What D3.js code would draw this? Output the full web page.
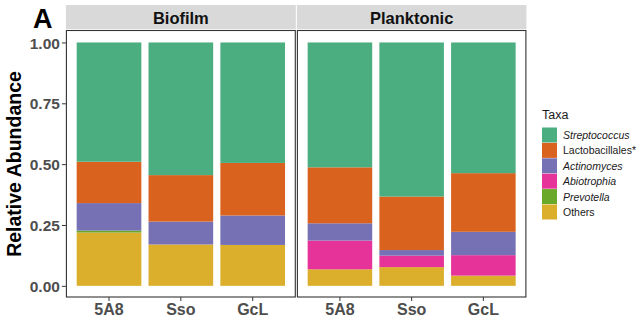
<!DOCTYPE html>
<html><head><meta charset="utf-8">
<script src="https://cdn.jsdelivr.net/npm/d3@7"></script>
<style>body{margin:0;background:#fff}svg{display:block;font-family:Arial,"Liberation Sans",sans-serif}</style>
</head><body><svg id="c" width="642" height="322"></svg>
<script>
const panels = ["Biofilm", "Planktonic"];
const samples = ["5A8", "Sso", "GcL"];
const taxa = ["Streptococcus", "Lactobacillales*", "Actinomyces", "Abiotrophia", "Prevotella", "Others"];
const italicTaxa = [true, false, true, true, true, false];
const colors = ["#4BAE80", "#D9621F", "#7670B5", "#E5339A", "#6AA82A", "#DBAE2C"];
// values per taxon, order: Biofilm 5A8, Sso, GcL, Planktonic 5A8, Sso, GcL
const streptococcus   = [0.490, 0.545, 0.495, 0.513, 0.633, 0.537];
const lactobacillales = [0.170, 0.191, 0.216, 0.230, 0.220, 0.241];
const actinomyces     = [0.113, 0.094, 0.121, 0.071, 0.023, 0.096];
const abiotrophia     = [0.000, 0.000, 0.000, 0.118, 0.047, 0.084];
const prevotella      = [0.008, 0.000, 0.000, 0.000, 0.000, 0.000];
const others          = [0.219, 0.170, 0.168, 0.068, 0.077, 0.042];
const yTicks = [0, 0.25, 0.5, 0.75, 1.0];

const series = [streptococcus, lactobacillales, actinomyces, abiotrophia, prevotella, others];
const rows = [];
panels.forEach((p, pi) => samples.forEach((s, si) => {
  const r = {panel: p, sample: s};
  taxa.forEach((t, ti) => r[t] = series[ti][pi * 3 + si]);
  rows.push(r);
}));
const stackOrder = taxa.slice().reverse();
const stacked = d3.stack().keys(stackOrder)(rows);
const color = d3.scaleOrdinal().domain(taxa).range(colors);

const svg = d3.select("#c");
const panelX = [[65.9, 295.8], [296.9, 526.4]];
const y = d3.scaleLinear().domain([-0.05, 1.05]).range([298, 30.3]);
const stripTop = 5, stripBot = 29;
const font = "Arial, 'Liberation Sans', sans-serif";

panels.forEach((p, pi) => {
  const [x0, x1] = panelX[pi];
  const x = d3.scaleBand().domain(samples).range([x0, x1]).paddingInner(0.1).paddingOuter(0.15);
  const g = svg.append("g");
  g.append("rect").attr("x", x0).attr("y", stripTop).attr("width", x1 - x0).attr("height", stripBot - stripTop).attr("fill", "#D9D9D9");
  g.append("text").attr("x", (x0 + x1) / 2).attr("y", 24).attr("text-anchor", "middle")
    .attr("font-size", 16.5).attr("font-weight", "bold").attr("fill", "#111").text(p);
  stacked.forEach(layer => {
    const key = layer.key;
    layer.forEach(d => {
      if (d.data.panel !== p) return;
      if (d[1] - d[0] <= 0) return;
      g.append("rect")
        .attr("x", x(d.data.sample)).attr("width", x.bandwidth())
        .attr("y", y(d[1])).attr("height", y(d[0]) - y(d[1]))
        .attr("fill", color(key));
    });
  });
  g.append("rect").attr("x", x0 + 0.5).attr("y", 30.5).attr("width", x1 - x0 - 1).attr("height", 297 - 30.5)
    .attr("fill", "none").attr("stroke", "#333").attr("stroke-width", 1.1);
  const xa = svg.append("g").attr("transform", "translate(0,297)")
    .call(d3.axisBottom(x).tickSize(4).tickPadding(3));
  xa.select(".domain").remove();
  xa.selectAll("line").attr("stroke", "#333");
  xa.selectAll("text").attr("font-size", 16).attr("font-weight", "bold").attr("fill", "#4d4d4d")
    .attr("font-family", font);
});

const ya = svg.append("g").attr("transform", "translate(65.9,0)")
  .call(d3.axisLeft(y).tickValues(yTicks).tickFormat(d3.format(".2f")).tickSize(4).tickPadding(2));
ya.select(".domain").remove();
ya.selectAll("line").attr("stroke", "#333");
ya.selectAll("text").attr("font-size", 15.5).attr("font-weight", "bold").attr("fill", "#4d4d4d")
  .attr("font-family", font).attr("dy", "0.36em");

svg.append("text").attr("transform", "translate(21,164) rotate(-90)").attr("text-anchor", "middle")
  .attr("font-size", 19.5).attr("font-weight", "bold").attr("fill", "#000").text("Relative Abundance");
svg.append("text").attr("x", 33).attr("y", 28).attr("font-size", 27).attr("font-weight", "bold").text("A");

const lg = svg.append("g").attr("transform", "translate(542,0)");
lg.append("text").attr("x", 0).attr("y", 119).attr("font-size", 12.5).attr("fill", "#1a1a1a").text("Taxa");
taxa.forEach((t, i) => {
  const yy = 127.5 + i * 15.4;
  lg.append("rect").attr("x", 0).attr("y", yy).attr("width", 15).attr("height", 15)
    .attr("fill", color(t));
  lg.append("text").attr("x", 21).attr("y", yy + 11.5).attr("font-size", 10.5).attr("fill", "#1a1a1a")
    .attr("font-style", italicTaxa[i] ? "italic" : "normal").text(t);
});
</script></body></html>
